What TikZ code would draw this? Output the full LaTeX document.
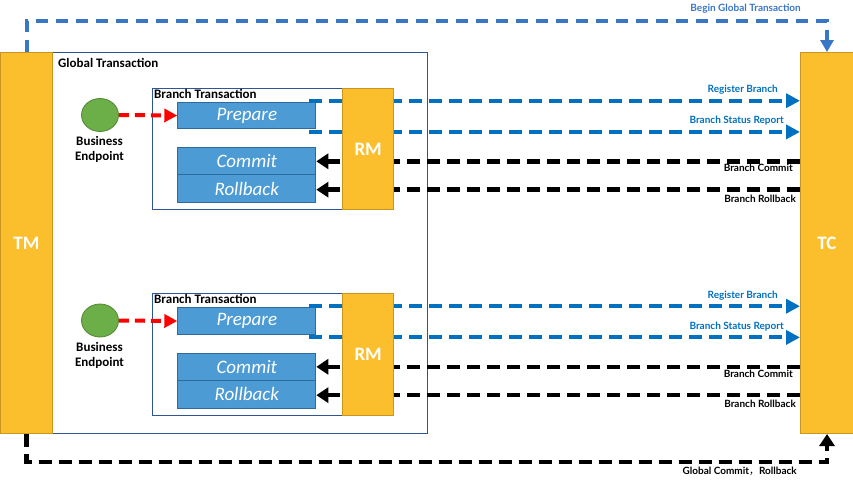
\documentclass[tikz,border=0pt]{standalone}
\usepackage{fontspec}
\setmainfont{Carlito}
\newfontfamily\labfont{Lato}
\newfontfamily\cjk{Noto Sans CJK SC}
\usetikzlibrary{arrows.meta,shapes.geometric}
\definecolor{orng}{HTML}{FBBF2E}
\definecolor{orngd}{HTML}{C9961F}
\definecolor{bbox}{HTML}{4C9BD5}
\definecolor{bboxd}{HTML}{2E6A9C}
\definecolor{gborder}{HTML}{2F5597}
\definecolor{grn}{HTML}{6CAE47}
\definecolor{grnd}{HTML}{4F8733}
\definecolor{lblue}{HTML}{0070C0}
\definecolor{tblue}{HTML}{3A76C6}
\tikzset{
  orangebox/.style={draw=orngd, fill=orng, line width=1pt, anchor=north west, inner sep=0pt,
    text=white, font=\bfseries\fontsize{19}{22}\selectfont},
  gbox/.style={draw=gborder, line width=1pt, anchor=north west, inner sep=0pt},
  bluebox/.style={draw=bboxd, fill=bbox, line width=1pt, anchor=north west, inner sep=0pt,
    minimum width=138pt, text=white, font=\itshape\fontsize{19}{21}\selectfont},
  endpoint/.style={ellipse, draw=grnd, fill=grn, line width=0.8pt, minimum width=37pt, minimum height=33pt, inner sep=0pt},
  boxtitle/.style={anchor=west, inner sep=0pt, font=\bfseries\fontsize{13}{15}\selectfont},
  bluelab/.style={anchor=east, inner sep=0pt, text=lblue, font=\labfont\bfseries\fontsize{10}{11}\selectfont},
  blacklab/.style={anchor=east, inner sep=0pt, text=black, font=\labfont\bfseries\fontsize{10}{11}\selectfont},
  bluedash/.style={draw=lblue, line width=4pt, dash pattern=on 13pt off 7pt, -{Triangle[length=14pt,width=14pt]}},
  topdash/.style={draw=tblue, line width=4pt, dash pattern=on 12pt off 8pt, -{Triangle[length=12pt,width=13pt]}},
  blackdash/.style={draw=black, line width=4.5pt, dash pattern=on 13pt off 7pt, -{Triangle[length=12pt,width=15pt]}},
  reddash/.style={draw=red, line width=4pt, dash pattern=on 10pt off 6pt, -{Triangle[length=13pt,width=13pt]}},
}
\begin{document}
\begin{tikzpicture}[x=1pt,y=-1pt]
\useasboundingbox (0,0) rectangle (853,482);
% Global transaction frame
\node[gbox, minimum width=374.7pt, minimum height=381pt] (gt) at (52,52) {};
\node[boxtitle] (gtl) at (58,62.5) {Global Transaction};
% TM and TC
\node[orangebox, minimum width=52pt, minimum height=381pt] (tm) at (0,52) {TM};
\node[orangebox, minimum width=53pt, minimum height=381pt] (tc) at (800,52) {TC};
% top and bottom global connectors
\draw[topdash] (tm.north) -- (tm.north |- 0,21) -| (tc.north);
\node[bluelab, text=tblue] (lbg) at (801,9) {Begin Global Transaction};
\draw[blackdash] (tm.south) -- (tm.south |- 0,462) -| (tc.south);
\node[blacklab] (lgc) at (797,471) {Global Commit{\cjk\mdseries ，}Rollback};
% branches
\foreach \i/\dy in {1/0,2/205.5}{
  \node[gbox, minimum width=190.3pt, minimum height=121.5pt] (bt\i) at (151.7,87.7+\dy) {};
  \node[boxtitle] (btl\i) at (154,93.5+\dy) {Branch Transaction};
  \node[bluebox, minimum height=26.7pt] (prep\i) at (177.3,101.7+\dy) {Prepare};
  \node[bluebox, minimum height=27pt] (com\i) at (177.3,147.3+\dy) {Commit};
  \node[bluebox, minimum height=27.7pt] (rol\i) at (177.3,174.3+\dy) {Rollback};
  \node[endpoint] (ep\i) at (100,115+\dy) {};
  \node[align=center, inner sep=0pt, font=\bfseries\fontsize{13}{15}\selectfont] (epl\i) at (99.5,149.5+\dy) {Business\\Endpoint};
  \draw[reddash] (ep\i.east) -- (prep\i.west);
  \draw[bluedash] ([xshift=-7pt,yshift=1pt]prep\i.north east) -- ([yshift=1pt]prep\i.north east -| tc.west);
  \draw[bluedash] ([xshift=-7pt,yshift=-2.5pt]prep\i.south east) -- ([yshift=-2.5pt]prep\i.south east -| tc.west);
  \draw[blackdash] (com\i.east -| tc.west) -- (com\i.east);
  \draw[blackdash] ([yshift=-1pt]rol\i.east -| tc.west) -- ([yshift=-1pt]rol\i.east);
  \node[orangebox, minimum width=51.3pt, minimum height=121.5pt] (rm\i) at (342,87.7+\dy) {RM};
  \node[bluelab] (lrb\i) at (778,90+\dy) {Register Branch};
  \node[bluelab] (lbs\i) at (784,121+\dy) {Branch Status Report};
  \node[blacklab] (lbc\i) at (793,168+\dy) {Branch Commit};
  \node[blacklab] (lbr\i) at (796,198.5+\dy) {Branch Rollback};
}
\end{tikzpicture}
\end{document}
